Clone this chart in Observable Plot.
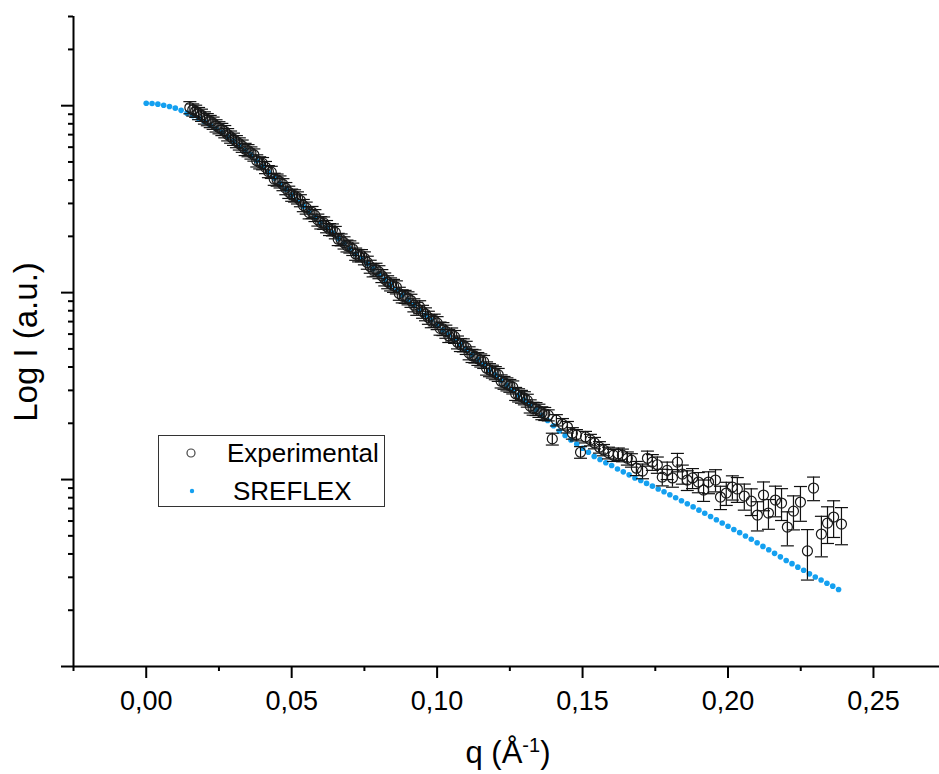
<!DOCTYPE html>
<html>
<head>
<meta charset="utf-8">
<script src="https://cdn.jsdelivr.net/npm/d3@7"></script>
<script src="https://cdn.jsdelivr.net/npm/@observablehq/plot@0.6"></script>
<style>
  body { margin: 0; background: #fff; }
  #chart { position: relative; width: 939px; height: 774px; font-family: "Liberation Sans", Arial, sans-serif; color: #000; }
  #chart svg.overlay { position: absolute; left: 0; top: 0; pointer-events: none; }
</style>
</head>
<body>
<div id="chart"></div>
<script>
// SAXS profile: experimental intensities (with errors) and the SREFLEX model fit.

// Model curve (SREFLEX)
const sreflexQ = [
  0.000, 0.002, 0.004, 0.006, 0.008, 0.010, 0.012, 0.014, 0.016, 0.018,
  0.020, 0.022, 0.024, 0.026, 0.028, 0.030, 0.032, 0.034, 0.036, 0.038,
  0.040, 0.042, 0.044, 0.046, 0.048, 0.050, 0.052, 0.054, 0.056, 0.058,
  0.060, 0.062, 0.064, 0.066, 0.068, 0.070, 0.072, 0.074, 0.076, 0.078,
  0.080, 0.082, 0.084, 0.086, 0.088, 0.090, 0.092, 0.094, 0.096, 0.098,
  0.100, 0.102, 0.104, 0.106, 0.108, 0.110, 0.112, 0.114, 0.116, 0.118,
  0.120, 0.122, 0.124, 0.126, 0.128, 0.130, 0.132, 0.134, 0.136, 0.138,
  0.140, 0.142, 0.144, 0.146, 0.148, 0.150, 0.152, 0.154, 0.156, 0.158,
  0.160, 0.162, 0.164, 0.166, 0.168, 0.170, 0.172, 0.174, 0.176, 0.178,
  0.180, 0.182, 0.184, 0.186, 0.188, 0.190, 0.192, 0.194, 0.196, 0.198,
  0.200, 0.202, 0.204, 0.206, 0.208, 0.210, 0.212, 0.214, 0.216, 0.218,
  0.220, 0.222, 0.224, 0.226, 0.228, 0.230, 0.232, 0.234, 0.236, 0.238
];
const sreflexI = [
  1031, 1028, 1019, 1006, 990, 970, 944, 912, 883, 855,
  821, 786, 753, 721, 684, 647, 611, 578, 546, 508,
  473, 440, 410, 382, 357, 333, 310, 290, 271, 253,
  237, 223, 209, 195, 183, 172, 161, 152, 143, 134,
  126, 118, 110, 103, 97.0, 91.2, 85.8, 80.7, 75.9, 71.4,
  67.2, 63.2, 59.5, 56.0, 52.6, 49.6, 46.6, 43.8, 41.1, 38.6,
  36.3, 34.0, 32.0, 30.1, 28.3, 26.6, 25.0, 23.6, 22.1, 20.7,
  19.4, 18.2, 17.2, 16.3, 15.5, 14.7, 14.0, 13.3, 12.8, 12.3,
  11.9, 11.4, 11.0, 10.6, 10.2, 9.88, 9.54, 9.22, 8.91, 8.60,
  8.29, 8.00, 7.71, 7.42, 7.14, 6.86, 6.60, 6.34, 6.10, 5.86,
  5.63, 5.41, 5.20, 4.99, 4.79, 4.59, 4.39, 4.21, 4.03, 3.86,
  3.69, 3.55, 3.40, 3.27, 3.13, 3.01, 2.90, 2.79, 2.69, 2.58
];

// Experimental data
const expQ = [
  0.015, 0.016, 0.017, 0.018, 0.019, 0.020, 0.021, 0.022, 0.023, 0.024,
  0.025, 0.026, 0.027, 0.028, 0.029, 0.030, 0.031, 0.032, 0.033, 0.034,
  0.035, 0.036, 0.037, 0.038, 0.039, 0.040, 0.041, 0.042, 0.043, 0.044,
  0.045, 0.046, 0.047, 0.048, 0.049, 0.050, 0.051, 0.052, 0.053, 0.054,
  0.055, 0.056, 0.057, 0.058, 0.059, 0.060, 0.061, 0.062, 0.063, 0.064,
  0.065, 0.066, 0.067, 0.068, 0.069, 0.070, 0.071, 0.072, 0.073, 0.074,
  0.075, 0.076, 0.077, 0.078, 0.079, 0.080, 0.081, 0.082, 0.083, 0.084,
  0.085, 0.086, 0.087, 0.088, 0.089, 0.090, 0.091, 0.092, 0.093, 0.094,
  0.095, 0.096, 0.097, 0.098, 0.099, 0.100, 0.101, 0.102, 0.103, 0.104,
  0.105, 0.106, 0.107, 0.108, 0.109, 0.110, 0.111, 0.112, 0.113, 0.114,
  0.115, 0.116, 0.117, 0.118, 0.119, 0.120, 0.121, 0.122, 0.123, 0.124,
  0.125, 0.126, 0.127, 0.128, 0.129, 0.130, 0.131, 0.132, 0.133, 0.134,
  0.135, 0.136, 0.137,
  0.1382, 0.1396, 0.1410, 0.1431, 0.1448, 0.1465, 0.1479, 0.1493, 0.1510, 0.1527,
  0.1541, 0.1558, 0.1572, 0.1589, 0.1606, 0.1623, 0.1637, 0.1654, 0.1668, 0.1685,
  0.1706, 0.1723, 0.1740, 0.1757, 0.1774, 0.1791, 0.1809, 0.1826, 0.1843, 0.1860,
  0.1878, 0.1898, 0.1916, 0.1933, 0.1957, 0.1974, 0.1994, 0.2015, 0.2032, 0.2056,
  0.2080, 0.2101, 0.2122, 0.2139, 0.2163, 0.2184, 0.2204, 0.2225, 0.2249, 0.2273,
  0.2294, 0.2321, 0.2342, 0.2363, 0.2390
];
const expI = [
  978, 951, 936, 910, 891, 862, 844, 825, 808, 782,
  764, 748, 728, 701, 681, 663, 644, 626, 609, 585,
  576, 560, 546, 508, 496, 491, 468, 445, 441, 405,
  401, 392, 379, 361, 345, 333, 330, 322, 311, 293,
  284, 268, 269, 259, 245, 237, 236, 226, 218, 217,
  210, 193, 192, 185, 178, 176, 171, 161, 158, 158,
  153, 145, 138, 132, 133, 129, 123, 118, 114, 111,
  109, 107, 98.9, 95.8, 95.2, 93.5, 90.7, 85.8, 82.2, 83.8,
  79.2, 76.8, 73.6, 70.5, 71.0, 68.9, 64.4, 64.0, 62.0, 58.8,
  59.9, 58.1, 54.3, 52.6, 52.4, 50.8, 47.5, 46.0, 45.7, 44.3,
  43.5, 42.7, 39.4, 38.6, 37.9, 37.2, 36.4, 33.6, 33.0, 32.4,
  31.8, 31.2, 28.8, 28.3, 27.8, 27.3, 26.5, 24.7, 24.0, 23.9,
  23.4, 22.7, 22.5,
  22.1, 16.5, 20.8, 19.8, 19.1, 17.7, 17.3, 14.0, 16.9, 16.3,
  15.7, 14.9, 14.4, 13.9, 13.5, 13.7, 13.5, 13.0, 12.7, 11.5,
  11.1, 13.0, 12.4, 12.0, 10.3, 11.2, 10.2, 12.4, 10.7, 9.94,
  10.2, 9.70, 8.79, 9.70, 9.94, 8.06, 8.47, 9.12, 8.90, 8.16,
  7.67, 6.46, 8.26, 6.62, 7.77, 7.49, 5.57, 6.78, 7.58, 4.15,
  9.01, 5.11, 5.85, 6.30, 5.78
];
const expErr = [
  73, 71, 70, 68, 67, 65, 63, 62, 61, 59,
  57, 56, 55, 53, 51, 50, 48, 47, 46, 44,
  43, 42, 41, 38, 37, 37, 35, 33, 33, 30,
  30, 29, 28, 27, 26, 25, 25, 24, 23, 22,
  21, 20, 20, 19, 18, 18, 18, 17, 16, 16,
  16, 14.5, 14, 13.9, 13, 13.2, 13, 12.1, 12, 11.9,
  12.2, 11.6, 11, 10.6, 10.6, 10.3, 9.8, 9.4, 9.1, 8.9,
  8.7, 8.6, 7.9, 7.7, 7.6, 7.5, 7.3, 6.9, 6.6, 6.7,
  6.3, 6.1, 5.9, 5.6, 5.7, 5.5, 5.2, 5.1, 5.0, 4.7,
  4.8, 4.6, 4.3, 4.2, 4.2, 4.1, 3.8, 3.7, 3.7, 3.5,
  3.5, 3.4, 3.2, 3.1, 3.0, 3.0, 2.9, 2.7, 2.6, 2.6,
  2.5, 2.5, 2.3, 2.3, 2.2, 2.2, 2.1, 2.0, 1.9, 1.9,
  1.9, 1.8, 1.8,
  1.5, 1.2, 1.45, 1.4, 1.35, 1.25, 1.2, 1.0, 1.2, 1.15,
  1.1, 1.05, 1.0, 1.0, 1.0, 1.05, 1.05, 1.05, 1.05, 1.0,
  1.0, 1.2, 1.2, 1.2, 1.05, 1.2, 1.1, 1.4, 1.25, 1.2,
  1.25, 1.2, 1.15, 1.3, 1.35, 1.15, 1.2, 1.35, 1.35, 1.3,
  1.25, 1.15, 1.45, 1.2, 1.45, 1.45, 1.15, 1.4, 1.6, 1.25,
  1.3, 1.25, 1.3, 1.4, 1.3
];

// Axis ticks and labels
const xTicks = [0, 0.05, 0.10, 0.15, 0.20, 0.25];
const xTickLabels = ["0,00", "0,05", "0,10", "0,15", "0,20", "0,25"];
const xMinorTicks = [-0.025, 0.025, 0.075, 0.125, 0.175, 0.225];
const yMajorTicks = [1, 10, 100, 1000];
const yMinorTicks = [2, 3, 4, 5, 6, 7, 8, 9, 20, 30, 40, 50, 60, 70, 80, 90,
  200, 300, 400, 500, 600, 700, 800, 900, 2000, 3000];

const seriesNames = ["Experimental", "SREFLEX"];
const xTitle = "q (Å";
const xTitleSup = "-1";
const yTitle = "Log I (a.u.)";

const blue = "#14a0f0";
const ink = "#111";
const font = "'Liberation Sans', Arial, sans-serif";

const expData = expQ.map((q, i) => ({q, I: expI[i], err: expErr[i]}));
const modelData = sreflexQ.map((q, i) => ({q, I: sreflexI[i]}));

// Horizontal bar used as an error-bar cap; half-width equals the dot radius.
const capSymbol = {
  draw(context, size) {
    const r = Math.sqrt(size / Math.PI);
    context.moveTo(-r, 0);
    context.lineTo(r, 0);
  }
};

const chart = Plot.plot({
  width: 939,
  height: 774,
  marginLeft: 73,
  marginRight: 0,
  marginTop: 16,
  marginBottom: 108,
  style: {fontFamily: font, background: "white", color: "black", overflow: "visible"},
  x: {domain: [-0.025, 0.2727]},
  y: {type: "log", domain: [1, 3000]},
  marks: [
    Plot.axisY({ticks: yMinorTicks, tickSize: 5, tickFormat: () => "", strokeWidth: 2, label: null}),
    Plot.axisY({ticks: yMajorTicks, tickSize: 12, tickFormat: () => "", strokeWidth: 2, label: null}),
    Plot.axisX({ticks: xMinorTicks, tickSize: 5, tickFormat: () => "", strokeWidth: 2, label: null}),
    Plot.axisX({
      ticks: xTicks, tickSize: 12, tickPadding: 12, strokeWidth: 2, label: null,
      fontSize: 27, tickFormat: (d) => xTickLabels[xTicks.indexOf(d)]
    }),
    Plot.ruleX([-0.025], {strokeWidth: 2}),
    Plot.ruleY([1], {strokeWidth: 2}),
    Plot.dot(modelData, {x: "q", y: "I", r: 2.8, fill: blue}),
    Plot.ruleX(expData, {x: "q", y1: (d) => d.I - d.err, y2: (d) => d.I + d.err, stroke: ink, strokeWidth: 1.2}),
    Plot.dot(expData, {x: "q", y: (d) => d.I + d.err, symbol: capSymbol, r: 6.5, stroke: ink, strokeWidth: 1.2}),
    Plot.dot(expData, {x: "q", y: (d) => d.I - d.err, symbol: capSymbol, r: 6.5, stroke: ink, strokeWidth: 1.2}),
    Plot.dot(expData, {x: "q", y: "I", r: 5, stroke: "#1a1a1a", strokeWidth: 1.2, fill: "none"})
  ]
});

const root = document.getElementById("chart");
root.appendChild(chart);

// Axis titles and the legend box
const overlay = d3.select(root).append("svg")
  .attr("class", "overlay")
  .attr("width", 939)
  .attr("height", 774)
  .attr("font-family", font)
  .attr("fill", "black");

overlay.append("text")
  .attr("transform", "translate(37,342) rotate(-90)")
  .attr("text-anchor", "middle")
  .attr("font-size", 33)
  .text(yTitle);

const xt = overlay.append("text")
  .attr("x", 508)
  .attr("y", 763)
  .attr("text-anchor", "middle")
  .attr("font-size", 31);
xt.append("tspan").text(xTitle);
xt.append("tspan").attr("font-size", 20).attr("dy", -11).text(xTitleSup);
xt.append("tspan").attr("dy", 11).text(")");

const legend = overlay.append("g");
legend.append("rect")
  .attr("x", 158.5).attr("y", 435.5)
  .attr("width", 226).attr("height", 71)
  .attr("fill", "white").attr("stroke", "#333").attr("stroke-width", 1);
legend.append("circle")
  .attr("cx", 191).attr("cy", 453).attr("r", 4)
  .attr("fill", "none").attr("stroke", "#444").attr("stroke-width", 1.2);
legend.append("text")
  .attr("x", 227).attr("y", 462).attr("font-size", 26)
  .text(seriesNames[0]);
legend.append("circle")
  .attr("cx", 192).attr("cy", 491).attr("r", 2.2)
  .attr("fill", blue);
legend.append("text")
  .attr("x", 233).attr("y", 500).attr("font-size", 26)
  .text(seriesNames[1]);
</script>
</body>
</html>
